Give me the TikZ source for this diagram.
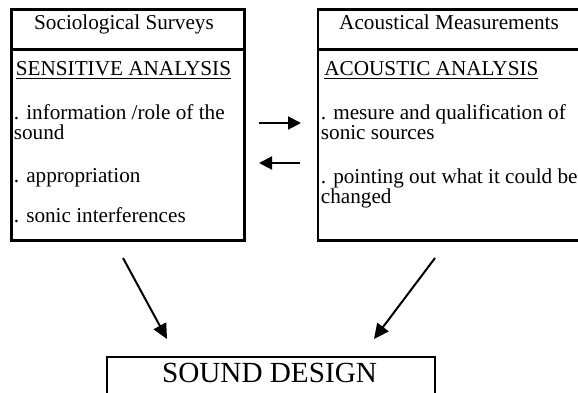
\documentclass[tikz,border=0pt]{standalone}
\usepackage{fontspec}
\setmainfont{Liberation Serif}
\usetikzlibrary{arrows.meta,positioning,calc}

\begin{document}
\begin{tikzpicture}[
    x=0.5pt, y=-0.5pt,
    font=\fontsize{10.6}{9.8}\selectfont,
    >={Triangle[length=6.5pt,width=6.5pt]},
    frame/.style={
        rectangle, draw=black, line width=1.4pt,
        inner sep=0pt, outer sep=0pt
    },
    title/.style={anchor=base, inner sep=0pt},
    item/.style={anchor=base west, align=left, inner sep=0pt},
    arrow/.style={->, line width=1pt},
]
  \useasboundingbox (0,0) rectangle (578,392);

  %––– Left column –––––––––––––––––––––––––––––––––––––––––
  \node (socioHead) [frame, minimum width=116.5pt, minimum height=20pt] at (128,29.5) {};
  \node (socioBody) [frame, minimum width=116.5pt, minimum height=95.5pt, below=0pt of socioHead] {};
  \node (socioTitle) [title] at ($(socioHead.center)+(-4,0)$) {Sociological Surveys};

  % multi-line items sit on the baseline of their last line
  \node (sensitive) [item] at (15.5,75) {\underline{SENSITIVE ANALYSIS}};
  \node (role)      [item] at (13.5,139.5) {. information /role of the\\sound};
  \node (approp)    [item] at (13.5,182) {. appropriation};
  \node (interf)    [item] at (13.5,222) {. sonic interferences};

  %––– Right column ––––––––––––––––––––––––––––––––––––––––
  \node (acouHead) [frame, minimum width=133pt, minimum height=20pt] at (451,29.5) {};
  \node (acouBody) [frame, minimum width=133pt, minimum height=95.5pt, below=0pt of acouHead] {};
  \node (acouTitle) [title] at ($(acouHead.center)+(-2,0)$) {Acoustical Measurements};

  \node (acoustic) [item] at (324,75) {\underline{ACOUSTIC ANALYSIS}};
  \node (mesure)   [item] at (320.5,139.5) {. mesure and qualification of\\sonic sources};
  \node (pointing) [item] at (320.5,203) {. pointing out what it could be\\changed};

  %––– Result ––––––––––––––––––––––––––––––––––––––––––––––
  \node (design) [frame, line width=1.2pt, minimum width=164pt, minimum height=30pt] at (271,387) {};
  \node (designTitle) [title, font=\fontsize{14.6}{16}\selectfont] at (269.5,382) {SOUND DESIGN};

  %––– Arrows ––––––––––––––––––––––––––––––––––––––––––––––
  \coordinate (toAcouA) at (259,123);
  \coordinate (toAcouB) at (301,123);
  \coordinate (toSocioA) at (300,163);
  \coordinate (toSocioB) at (259,163);
  \coordinate (fromSocio) at (123,258);
  \coordinate (intoDesignL) at (167,339);
  \coordinate (fromAcou) at (435,258);
  \coordinate (intoDesignR) at (374,339);

  \draw[arrow] (toAcouA) -- (toAcouB);
  \draw[arrow] (toSocioA) -- (toSocioB);
  \draw[arrow, >={Triangle[length=7.5pt,width=7pt]}] (fromSocio) -- (intoDesignL);
  \draw[arrow, >={Triangle[length=7.5pt,width=7pt]}] (fromAcou) -- (intoDesignR);
\end{tikzpicture}
\end{document}
